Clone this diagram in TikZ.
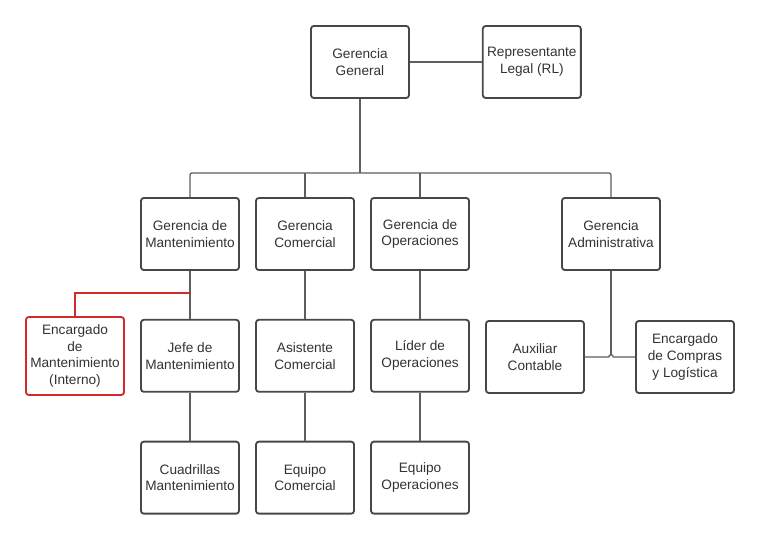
\documentclass[tikz,border=0pt]{standalone}
\usepackage{fontspec}
\setmainfont{Liberation Sans}
\usepackage{tikz}
\usetikzlibrary{positioning,calc}
\definecolor{boxgray}{HTML}{474747}
\definecolor{linegray}{HTML}{5E5E5E}
\definecolor{txtgray}{HTML}{333333}
\definecolor{redline}{HTML}{D02A2A}
\tikzset{
  unit/.style={draw=boxgray, line width=1.3pt, rounded corners=2pt, fill=white,
    minimum width=2.45cm, minimum height=1.8cm, inner sep=1pt, align=center,
    text=txtgray, font=\fontsize{9.7}{12}\selectfont},
  redunit/.style={unit, draw=redline, minimum height=1.95cm},
  conn/.style={draw=linegray, line width=0.9pt, rounded corners=1.5pt},
  redconn/.style={draw=redline, line width=0.9pt}
}

\begin{document}
\begin{tikzpicture}[node distance=1.2cm and 0.38cm]
    \useasboundingbox (0,0) rectangle (19,-13.55);
    % direccion
    \node[unit] (gg) at (9.0,-1.55) {Gerencia\\General};
    \node[unit, right=1.8cm of gg] (rl) {Representante\\Legal (RL)};
    \draw[conn] (gg) -- (rl);

    % gerencias
    \node[unit] (gman) at (4.75,-5.85) {Gerencia de\\Mantenimiento};
    \node[unit, right=of gman] (gcom) {Gerencia\\Comercial};
    \node[unit, right=of gcom] (gop) {Gerencia de\\Operaciones};
    \node[unit] (gadm) at (15.275,-5.85) {Gerencia\\Administrativa};

    \coordinate[below=1.85cm of gg.south] (bus);
    \draw[conn] (gg) -- (bus);
    \draw[conn] (gman) |- (gadm.north |- bus) -- (gadm);
    \draw[conn] (gcom) -- (gcom.north |- bus);
    \draw[conn] (gop) -- (gop.north |- bus);

    % tercer nivel
    \node[unit, below=of gman] (jefe) {Jefe de\\Mantenimiento};
    \node[unit, below=of gcom] (asis) {Asistente\\Comercial};
    \node[unit, below=of gop] (lider) {L\'ider de\\Operaciones};
    \node[redunit] (enc) at (1.875,-8.9) {Encargado\\de\\Mantenimiento\\(Interno)};
    \node[unit] (aux) at (13.375,-8.925) {Auxiliar\\Contable};
    \node[unit] (comp) at (17.125,-8.925) {Encargado\\de Compras\\y Log\'istica};

    \draw[conn] (gman) -- (jefe);
    \draw[conn] (gcom) -- (asis);
    \draw[conn] (gop) -- (lider);
    \coordinate[below=0.55cm of gman.south] (rj);
    \draw[redconn] (rj) -| (enc);

    \coordinate (aj) at (gadm.south |- aux.east);
    \draw[conn] (gadm) -- ([yshift=1.6pt]aj);
    \draw[draw=linegray, line width=0.9pt] (aux) -- ([xshift=-1.6pt]aj)
      arc (180:0:1.6pt) -- (comp);

    % cuarto nivel
    \node[unit, below=of jefe] (cuad) {Cuadrillas\\Mantenimiento};
    \node[unit, below=of asis] (eqcom) {Equipo\\Comercial};
    \node[unit, below=of lider] (eqop) {Equipo\\Operaciones};

    \draw[conn] (jefe) -- (cuad);
    \draw[conn] (asis) -- (eqcom);
    \draw[conn] (lider) -- (eqop);
\end{tikzpicture}
\end{document}
